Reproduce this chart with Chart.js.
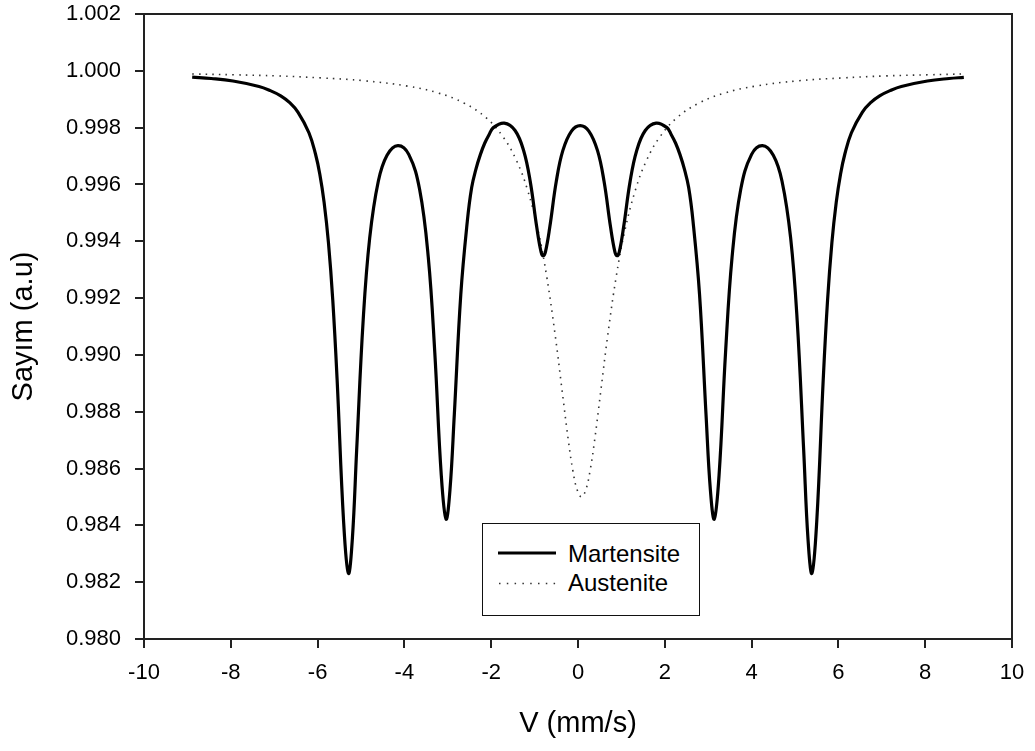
<!DOCTYPE html>
<html><head><meta charset="utf-8">
<script src="https://cdn.jsdelivr.net/npm/chart.js@4/dist/chart.umd.min.js"></script>
<style>
html,body{margin:0;padding:0;background:#fff;}
#wrap{position:relative;width:1035px;height:751px;}
#legend{position:absolute;left:482px;top:523px;width:218px;height:93px;border:1.5px solid #111;box-sizing:border-box;background:#fff;}
.lg{position:absolute;font-family:'Liberation Sans',Arial,sans-serif;font-size:24px;line-height:24px;color:#000;white-space:nowrap;}
svg{pointer-events:none;}
</style></head><body>
<div id="wrap">
<canvas id="c" width="1035" height="751"></canvas>
<div id="legend"></div>
<svg style="position:absolute;left:0;top:0" width="1035" height="751">
<line x1="498" y1="553" x2="556" y2="553" stroke="#000" stroke-width="3"/>
<line x1="499" y1="583.5" x2="556" y2="583.5" stroke="#333" stroke-width="1.6" stroke-dasharray="1.5 6.3"/>
</svg>
<div class="lg" style="left:568px;top:542px">Martensite</div>
<div class="lg" style="left:568px;top:571px">Austenite</div>
</div>
<script>
// Martensite (sextet)
const martX = [-8.89,-8.45,-7.95,-7.35,-7.10,-6.85,-6.65,-6.45,-6.20,-6.05,-5.95,-5.85,-5.75,-5.65,-5.55,-5.40,-5.29,-5.20,-5.10,-4.95,-4.80,-4.60,-4.40,-4.15,-3.90,-3.65,-3.45,-3.30,-3.15,-3.04,-2.95,-2.85,-2.70,-2.55,-2.45,-2.35,-2.25,-2.15,-2.05,-1.95,-1.70,-1.45,-1.25,-1.10,-0.95,-0.85,-0.80,-0.75,-0.65,-0.50,-0.35,-0.15,0.05,
  0.25,0.45,0.60,0.75,0.85,0.90,0.95,1.05,1.20,1.35,1.55,1.80,2.05,2.15,2.25,2.35,2.45,2.55,2.65,2.80,2.95,3.05,3.14,3.25,3.40,3.55,3.75,4.00,4.25,4.50,4.70,4.90,5.05,5.20,5.30,5.39,5.50,5.65,5.75,5.85,5.95,6.05,6.15,6.30,6.55,6.75,6.95,7.20,7.45,8.05,8.55,8.89];
const martY = [0.99978,0.99973,0.99964,0.99945,0.99931,0.99912,0.99889,0.99854,0.99782,0.99708,0.99637,0.99537,0.99395,0.99192,0.98912,0.98411,0.98231,0.98351,0.98665,0.99122,0.99411,0.99612,0.99703,0.99737,0.99706,0.99583,0.99344,0.99009,0.98576,0.98422,0.98525,0.98790,0.99214,0.99471,0.99589,0.99655,0.99705,0.99745,0.99775,0.99800,0.99816,0.99790,0.99718,0.99610,0.99449,0.99362,0.99349,0.99363,0.99450,0.99611,0.99719,0.99788,0.99807,
  0.99788,0.99719,0.99611,0.99450,0.99363,0.99349,0.99362,0.99449,0.99610,0.99718,0.99790,0.99816,0.99800,0.99775,0.99745,0.99705,0.99655,0.99589,0.99471,0.99214,0.98790,0.98525,0.98422,0.98576,0.99009,0.99344,0.99583,0.99706,0.99737,0.99703,0.99612,0.99411,0.99122,0.98665,0.98351,0.98231,0.98411,0.98912,0.99192,0.99395,0.99537,0.99637,0.99708,0.99782,0.99854,0.99889,0.99912,0.99931,0.99945,0.99964,0.99973,0.99977];
// Austenite (singlet)
const ausX = [-8.89,-7.92,-6.92,-5.92,-4.92,-3.92,-3.22,-2.62,-2.12,-1.72,-1.42,-1.17,-0.92,-0.72,-0.52,-0.37,-0.22,-0.12,-0.02,0.08,0.18,0.28,0.38,0.53,0.68,0.88,1.08,1.33,1.58,1.88,2.28,2.78,3.38,4.08,5.08,6.08,7.08,8.08,8.89];
const ausY = [0.99989,0.99986,0.99982,0.99975,0.99965,0.99946,0.99922,0.99886,0.99835,0.99766,0.99685,0.99584,0.99438,0.99275,0.99063,0.98879,0.98696,0.98594,0.98525,0.98500,0.98525,0.98594,0.98696,0.98879,0.99063,0.99275,0.99438,0.99584,0.99685,0.99766,0.99835,0.99886,0.99922,0.99946,0.99965,0.99975,0.99982,0.99986,0.99989];
const xTickValues = [-10,-8,-6,-4,-2,0,2,4,6,8,10];
const yTickValues = [0.980,0.982,0.984,0.986,0.988,0.990,0.992,0.994,0.996,0.998,1.000,1.002];
const yTickLabels = ['0.980','0.982','0.984','0.986','0.988','0.990','0.992','0.994','0.996','0.998','1.000','1.002'];
const seriesNames = ['Martensite','Austenite'];

const FONT = "'Liberation Sans', Arial, sans-serif";
Chart.defaults.font.family = FONT;
Chart.defaults.color = '#000';

const frame = {id:'frame', beforeDatasetsDraw(ch){const {ctx, chartArea:a} = ch; ctx.save(); ctx.strokeStyle='#222'; ctx.lineWidth=2; ctx.strokeRect(a.left,a.top,a.right-a.left,a.bottom-a.top); ctx.restore();}};

new Chart(document.getElementById('c'), {
  type: 'line',
  data: {
    datasets: [
      {label: seriesNames[0], data: martX.map((x,i)=>({x, y: martY[i]})), borderColor:'#000', borderWidth:3.2, pointRadius:0, fill:false, tension:0.4, borderJoinStyle:'round'},
      {label: seriesNames[1], data: ausX.map((x,i)=>({x, y: ausY[i]})), borderColor:'#333', borderWidth:1.6, borderDash:[1.5,5.2], pointRadius:0, fill:false, tension:0.4}
    ]
  },
  options: {
    responsive:false, animation:false, devicePixelRatio:1,
    layout:{padding:{left:0,right:23,top:14,bottom:0}},
    plugins:{legend:{display:false}, tooltip:{enabled:false}},
    scales:{
      x:{type:'linear', min:-10, max:10,
        afterBuildTicks: s => { s.ticks = xTickValues.map(v=>({value:v})); },
        afterFit: s => { s.height = 112; s.paddingLeft = 0; s.paddingRight = 0; },
        ticks:{font:{size:22}, color:'#000', padding:12, autoSkip:false, maxRotation:0, callback: v => String(v)},
        grid:{display:true, drawOnChartArea:false, drawTicks:true, tickLength:9, color:'#222', lineWidth:2},
        border:{display:true, color:'#222', width:2},
        title:{display:true, text:'V (mm/s)', font:{size:29}, color:'#000', padding:{top:0,bottom:10}}
      },
      y:{type:'linear', min:0.980, max:1.002,
        afterBuildTicks: s => { s.ticks = yTickValues.map(v=>({value:v})); },
        afterFit: s => { s.width = 144; s.paddingTop = 0; s.paddingBottom = 0; },
        ticks:{font:{size:22}, color:'#000', padding:14, autoSkip:false, callback: (v,i) => yTickLabels[i]},
        grid:{display:true, drawOnChartArea:false, drawTicks:true, tickLength:9, color:'#222', lineWidth:2},
        border:{display:true, color:'#222', width:2},
        title:{display:true, text:'Sayım (a.u)', font:{size:29}, color:'#000', padding:{top:7,bottom:0}}
      }
    }
  },
  plugins:[frame]
});
</script>
</body></html>
